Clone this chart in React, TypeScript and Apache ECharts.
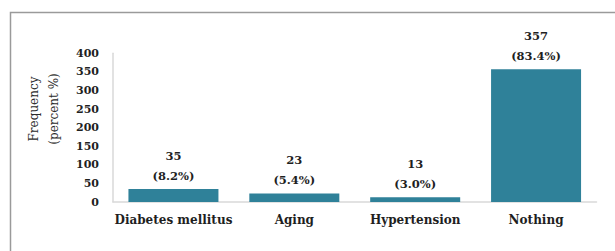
import React, { useEffect, useRef } from "react";
import * as echarts from "echarts";

const categories = ["Diabetes mellitus", "Aging", "Hypertension", "Nothing"];
const frequencies = [35, 23, 13, 357];
const percents = ["8.2%", "5.4%", "3.0%", "83.4%"];
const yTicks = { min: 0, max: 400, interval: 50 };

const FONT = "'DejaVu Serif', serif";

export default function App() {
  const ref = useRef<HTMLDivElement>(null);
  useEffect(() => {
    if (!ref.current) return;
    const chart = echarts.init(ref.current, null, { renderer: "svg" });
    chart.setOption({
      animation: false,
      backgroundColor: "#ffffff",
      grid: { left: 113, right: 18.5, top: 53.3, bottom: 49, containLabel: false },
      graphic: [
        {
          type: "rect",
          shape: { x: 10.5, y: 12.5, width: 700, height: 400 },
          style: { fill: "none", stroke: "#9a9a9a", lineWidth: 1.5 },
          silent: true,
        },
        {
          type: "text",
          x: 44,
          y: 109,
          rotation: Math.PI / 2,
          style: {
            text: "Frequency\n(percent %)",
            font: `12px ${FONT}`,
            fill: "#2b2b2b",
            align: "center",
            verticalAlign: "middle",
            lineHeight: 20,
          },
        },
      ],
      xAxis: {
        type: "category",
        data: categories,
        axisLine: { show: true, lineStyle: { color: "#d9d9d9", width: 1.5 } },
        axisTick: { show: false },
        axisLabel: {
          interval: 0,
          hideOverlap: false,
          margin: 12,
          fontFamily: FONT,
          fontWeight: "bold",
          fontSize: 12,
          color: "#1f1f1f",
        },
      },
      yAxis: {
        type: "value",
        min: yTicks.min,
        max: yTicks.max,
        interval: yTicks.interval,
        axisLine: { show: true, lineStyle: { color: "#d9d9d9", width: 1.5 } },
        axisTick: { show: false },
        splitLine: { show: false },
        axisLabel: {
          margin: 14,
          fontFamily: FONT,
          fontWeight: "bold",
          fontSize: 11,
          color: "#1f1f1f",
        },
      },
      series: [
        {
          type: "bar",
          data: frequencies,
          barWidth: 90,
          itemStyle: { color: "#2f8199" },
          label: {
            show: true,
            position: "top",
            distance: 3,
            fontFamily: FONT,
            fontWeight: "bold",
            fontSize: 11.5,
            lineHeight: 20,
            color: "#1f1f1f",
            formatter: (p: any) => `${frequencies[p.dataIndex]}\n(${percents[p.dataIndex]})`,
          },
        },
      ],
    });
    return () => chart.dispose();
  }, []);
  return (
    <div
      ref={ref}
      style={{ position: "fixed", left: 0, top: 0, width: 615, height: 251 }}
    />
  );
}
